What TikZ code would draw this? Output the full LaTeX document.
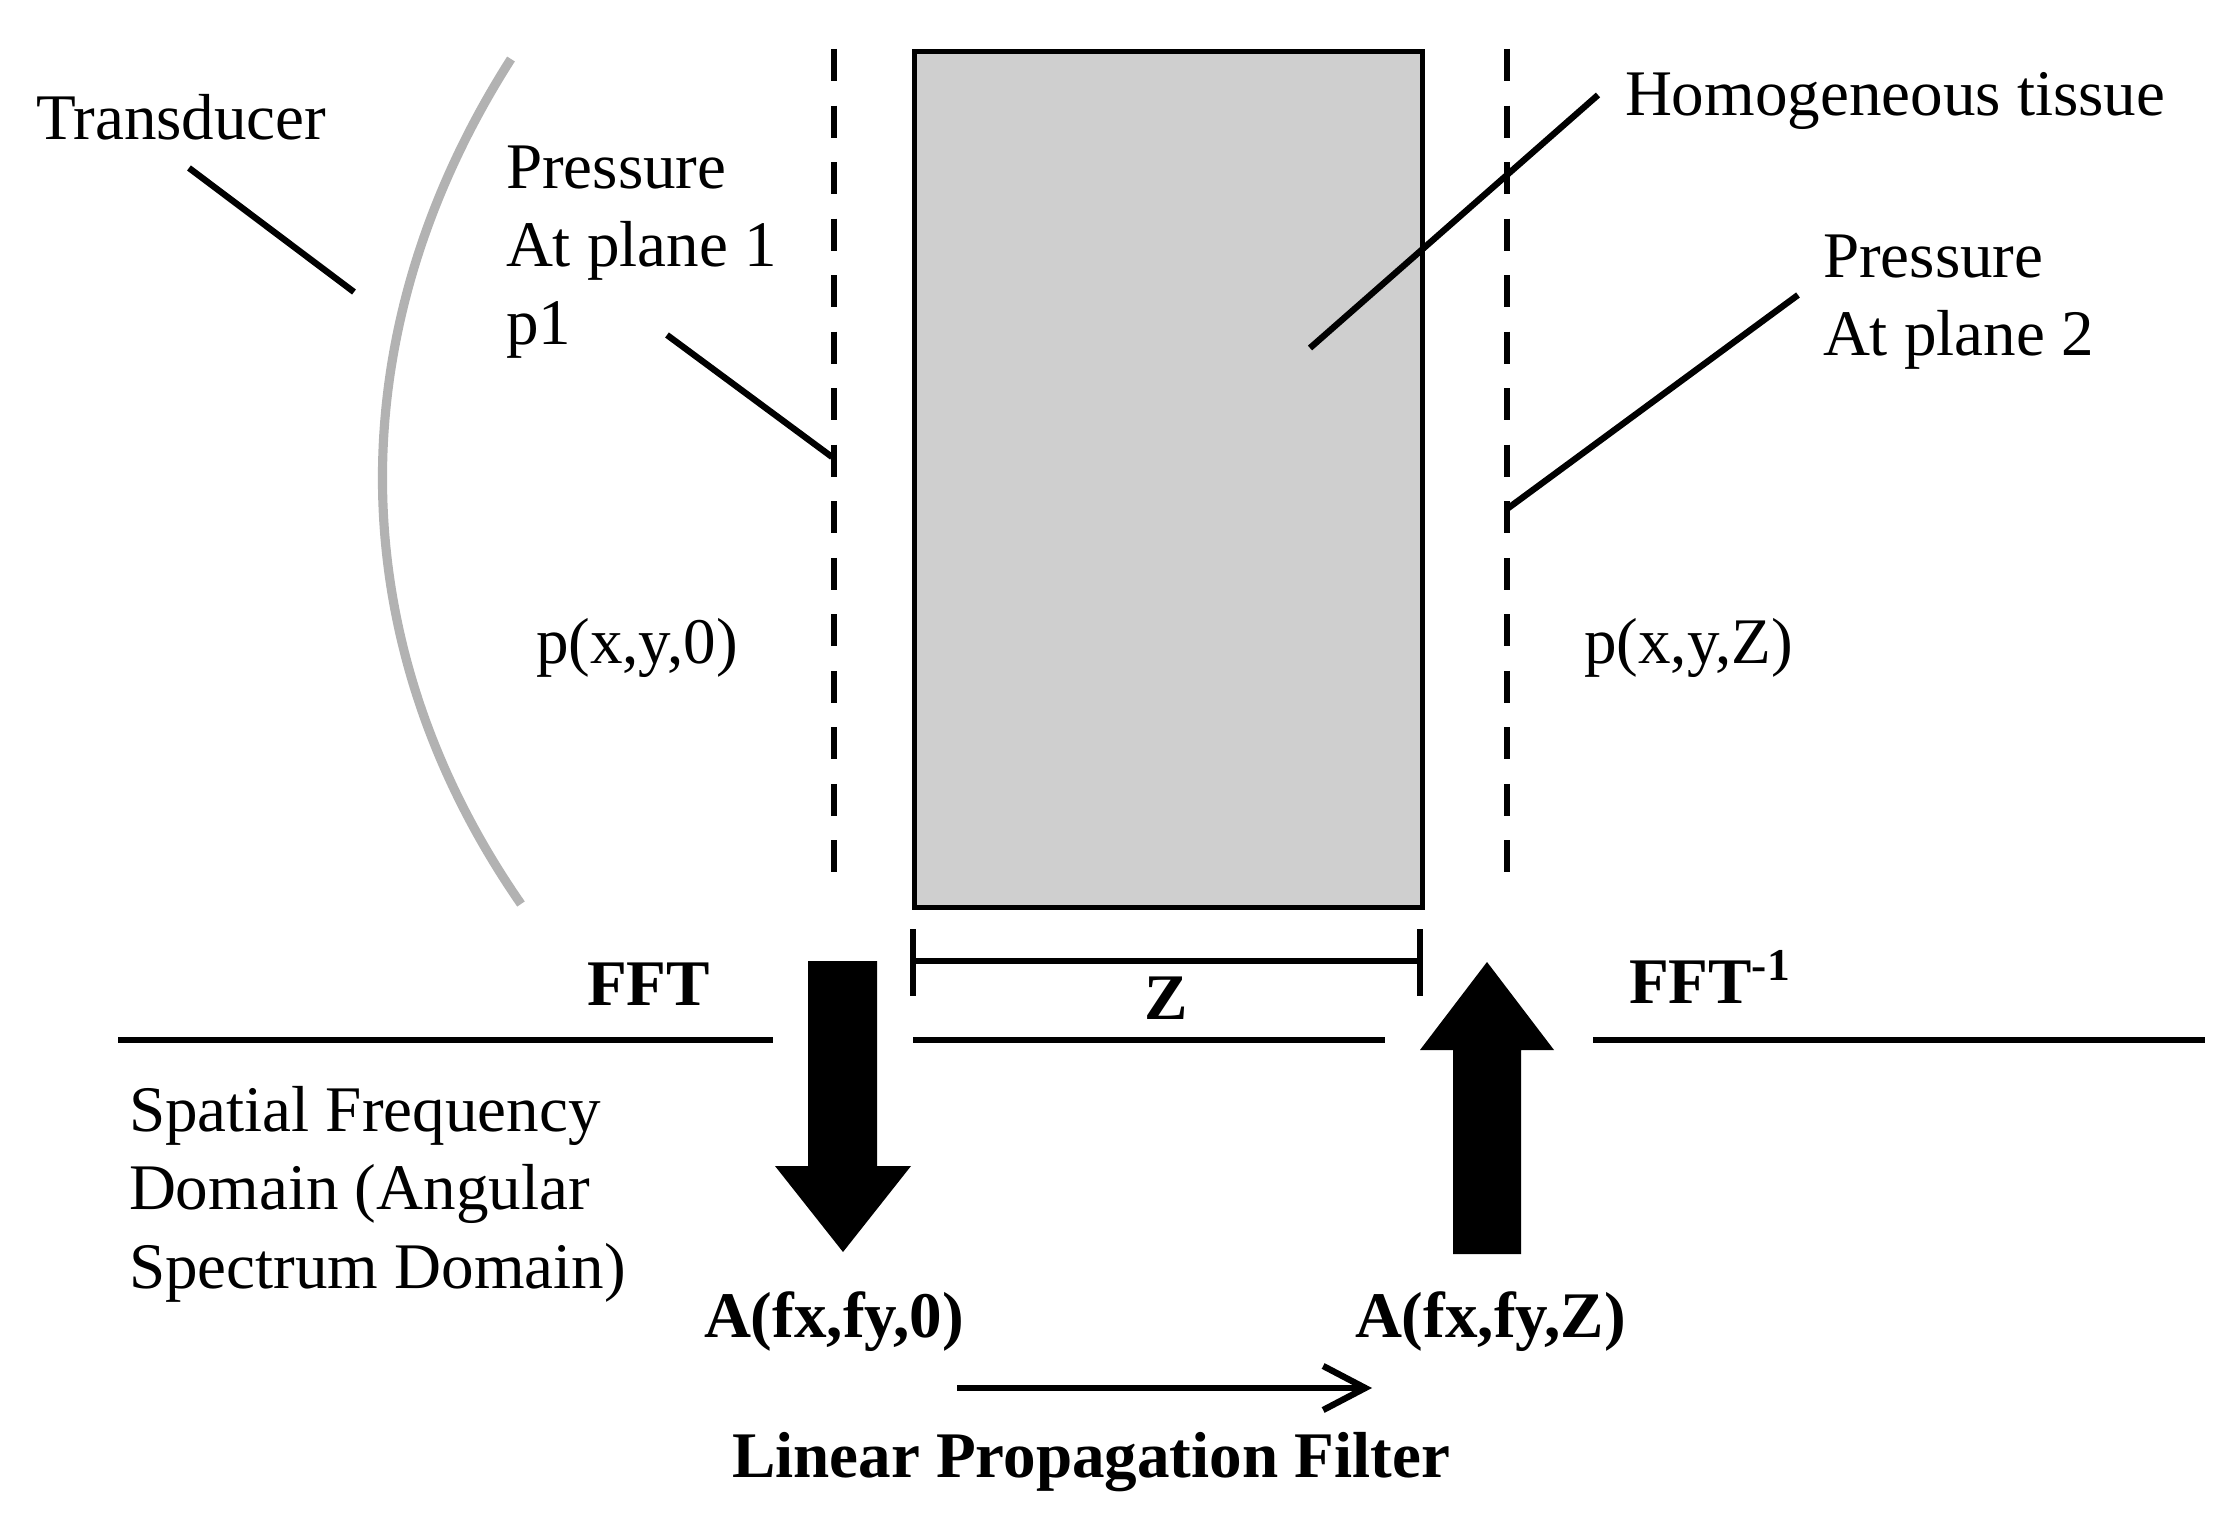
\documentclass[tikz,border=0pt]{standalone}
\usepackage{fontspec}
\setmainfont{Liberation Serif}
\usetikzlibrary{arrows.meta}
\definecolor{tissuegray}{RGB}{207,207,207}
\definecolor{arcgray}{RGB}{178,178,178}
\tikzset{
  lbl/.style={inner sep=0pt, outer sep=0pt, anchor=base west, font=\fontsize{18.5}{22.3}\selectfont, align=left},
  blbl/.style={lbl, font=\fontsize{18.5}{22.3}\selectfont\bfseries},
  leader/.style={line width=1.8pt},
  rule/.style={line width=1.9pt},
  plane/.style={line width=1.9pt, dash pattern=on 0.32cm off 0.245cm},
  dimline/.style={line width=1.6pt},
  bigarrow/.style={fill=black, draw=none},
}
\begin{document}
\begin{tikzpicture}[x=0.01cm, y=-0.01cm]
\useasboundingbox (0,0) rectangle (2233,1522);

% transducer arc
\draw[arcgray, line width=2.6pt] (511,59) .. controls (338,330) and (338,640) .. (521,904);

% tissue block
\node[draw=black, line width=1.3pt, fill=tissuegray, minimum width=5.08cm, minimum height=8.56cm, inner sep=0pt, anchor=north west] (tissue) at (912,49) {};

% measurement planes
\coordinate (p1top) at (834,49);
\coordinate (p1bot) at (834,884);
\coordinate (p2top) at (1507,49);
\coordinate (p2bot) at (1507,884);
\draw[plane] (p1top) -- (p1bot);
\draw[plane] (p2top) -- (p2bot);

% labels (multi-line nodes anchored at the baseline of their last line)
\node[lbl] (trans) at (36,140) {Transducer};
\node[lbl] (press1) at (506,345) {Pressure\\At plane 1\\p1};
\node[lbl] (homog) at (1625,116) {Homogeneous tissue};
\node[lbl] (press2) at (1823,356) {Pressure\\At plane 2};
\node[lbl] (pxy0) at (536,664) {p(x,y,0)};
\node[lbl] (pxyZ) at (1584,664) {p(x,y,Z)};

% leader lines
\coordinate (tA) at (189,168); \coordinate (tB) at (354,292);
\coordinate (aA) at (667,335); \coordinate (aB) at (832,457);
\coordinate (hA) at (1598,95); \coordinate (hB) at (1310,348);
\coordinate (bA) at (1798,295); \coordinate (bB) at (1507,509);
\draw[leader] (tA) -- (tB);
\draw[leader] (aA) -- (aB);
\draw[leader] (hA) -- (hB);
\draw[leader] (bA) -- (bB);

% Z dimension
\coordinate (zL) at (913,961); \coordinate (zR) at (1420,961);
\draw[dimline] (zL) -- (zR);
\draw[dimline] (913,929) -- (913,996);
\draw[dimline] (1420,929) -- (1420,996);
\node[blbl, anchor=base] (zlbl) at (1166,1019) {Z};

% domain separation line
\draw[rule] (118,1040) -- (773,1040);
\draw[rule] (913,1040) -- (1385,1040);
\draw[rule] (1593,1040) -- (2205,1040);

% FFT labels
\node[blbl] (fft) at (587,1005) {FFT};
\node[blbl] (ifft) at (1629,1003) {FFT\textsuperscript{-1}};

% block arrows
\fill[bigarrow] (808,961) -- (877,961) -- (877,1166) -- (911,1166) -- (843,1252) -- (775,1166) -- (808,1166) -- cycle;
\fill[bigarrow] (1453,1254) -- (1521,1254) -- (1521,1050) -- (1554,1050) -- (1487,962) -- (1420,1050) -- (1453,1050) -- cycle;

% spatial frequency domain
\node[lbl] (sfd) at (129,1288) {Spatial Frequency\\Domain (Angular\\Spectrum Domain)};
\node[blbl] (a0) at (704,1337) {A(fx,fy,0)};
\node[blbl] (aZ) at (1355,1337) {A(fx,fy,Z)};

% propagation arrow
\coordinate (lpS) at (957,1388);
\coordinate (lpE) at (1372,1388);
\draw[line width=1.8pt, -{Straight Barb[length=0.42cm, width=0.44cm, line width=1.8pt]}] (lpS) -- (lpE);
\node[blbl] (lpf) at (732,1477) {Linear Propagation Filter};
\end{tikzpicture}
\end{document}
